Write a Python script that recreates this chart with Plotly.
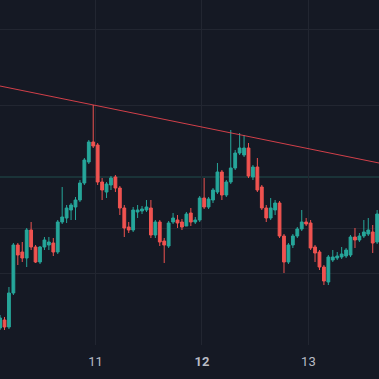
import plotly.graph_objects as go
import pandas as pd

# Hourly candles (price units are arbitrary; the reference shows no price scale)
start_time = "2024-06-10 02:30"
opens = [72, 80, 73, 107, 155, 148, 142, 170, 153, 138, 153, 155, 157, 148, 178, 182, 190, 193, 200, 217, 238,
         258, 255, 218, 208, 215, 223, 212, 192, 173, 170, 188, 189, 190, 192, 165, 178, 159, 154, 178, 180,
         178, 174, 187, 178, 180, 202, 193, 200, 208, 228, 205, 218, 232, 247, 245, 252, 223, 233, 213, 192,
         182, 190, 197, 164, 138, 155, 164, 171, 178, 177, 153, 148, 133, 118, 140, 142, 143, 144, 145, 163,
         160, 164, 166, 168, 158]
highs = [85, 83, 113, 157, 157, 158, 172, 178, 155, 154, 163, 163, 162, 180, 213, 195, 197, 203, 220, 242, 260,
         295, 257, 222, 218, 224, 225, 214, 195, 178, 193, 195, 194, 200, 200, 180, 180, 162, 179, 187, 185,
         181, 188, 192, 183, 204, 222, 203, 212, 237, 230, 220, 270, 250, 267, 265, 257, 235, 242, 215, 195,
         202, 200, 199, 166, 157, 166, 173, 190, 182, 180, 155, 150, 135, 145, 150, 148, 153, 152, 165, 172,
         167, 180, 182, 175, 190]
lows = [70, 70, 71, 105, 135, 138, 133, 150, 137, 136, 150, 150, 144, 146, 176, 177, 180, 180, 198, 215, 236,
        252, 215, 200, 202, 210, 208, 185, 163, 167, 168, 182, 186, 188, 162, 162, 154, 137, 152, 176, 172,
        170, 176, 174, 176, 178, 191, 191, 197, 206, 200, 203, 216, 230, 245, 243, 222, 220, 208, 190, 178,
        180, 185, 162, 127, 136, 152, 162, 169, 174, 150, 138, 130, 115, 115, 138, 140, 141, 142, 143, 152,
        158, 162, 164, 147, 156]
closes = [82, 73, 107, 155, 145, 142, 170, 153, 138, 153, 160, 158, 148, 178, 183, 192, 195, 200, 217, 240, 258,
          254, 218, 210, 216, 222, 212, 192, 172, 170, 190, 190, 191, 193, 165, 178, 158, 155, 177, 182, 177,
          173, 186, 178, 180, 202, 193, 201, 210, 228, 205, 218, 232, 247, 252, 252, 224, 233, 210, 192, 182,
          192, 197, 164, 138, 155, 164, 171, 178, 176, 152, 147, 133, 119, 143, 143, 144, 146, 150, 163, 160,
          164, 168, 170, 157, 186]

# Drawn trendline (two anchor points) and horizontal levels
trend_times = ["2024-06-10 02:29", "2024-06-13 15:55"]
trend_prices = [314, 237]
grid_levels = [371, 295, 172, 127]
teal_level = 223

day_ticks = ["2024-06-11", "2024-06-12", "2024-06-13"]
day_labels = ["11", "<b>12</b>", "13"]

times = pd.date_range(start_time, periods=len(opens), freq="h")

fig = go.Figure()
fig.add_trace(go.Candlestick(
    x=times, open=opens, high=highs, low=lows, close=closes,
    increasing=dict(line=dict(color="#26a69a", width=1), fillcolor="#26a69a"),
    decreasing=dict(line=dict(color="#ef5350", width=1), fillcolor="#ef5350"),
    whiskerwidth=0, showlegend=False, hoverinfo="skip",
))
fig.add_trace(go.Scatter(
    x=trend_times, y=trend_prices, mode="lines",
    line=dict(color="rgba(242,70,80,0.85)", width=1), showlegend=False, hoverinfo="skip",
))
fig.add_hline(y=teal_level, line=dict(color="rgba(40,120,110,0.55)", width=1), layer="below")

fig.update_layout(
    width=379, height=379,
    margin=dict(l=0, r=0, t=0, b=34),
    paper_bgcolor="#151924", plot_bgcolor="#151924",
    boxgap=0.1,
    xaxis=dict(
        range=["2024-06-10 02:29", "2024-06-13 15:55"],
        tickvals=day_ticks, ticktext=day_labels,
        showgrid=True, gridcolor="#222631", gridwidth=1,
        zeroline=False, showline=False, ticks="",
        rangeslider=dict(visible=False),
        tickfont=dict(family="Roboto", size=13, color="#b8bbc4"),
        ticklabelstandoff=7,
    ),
    yaxis=dict(
        range=[55, 400], tickvals=grid_levels, showticklabels=False,
        showgrid=True, gridcolor="#222631", gridwidth=1,
        zeroline=False, showline=False, ticks="",
    ),
)

fig.write_html(
    "out.html",
    config={"displayModeBar": False},
    post_script="document.body.style.margin='0px';document.body.style.background='#151924';",
)
